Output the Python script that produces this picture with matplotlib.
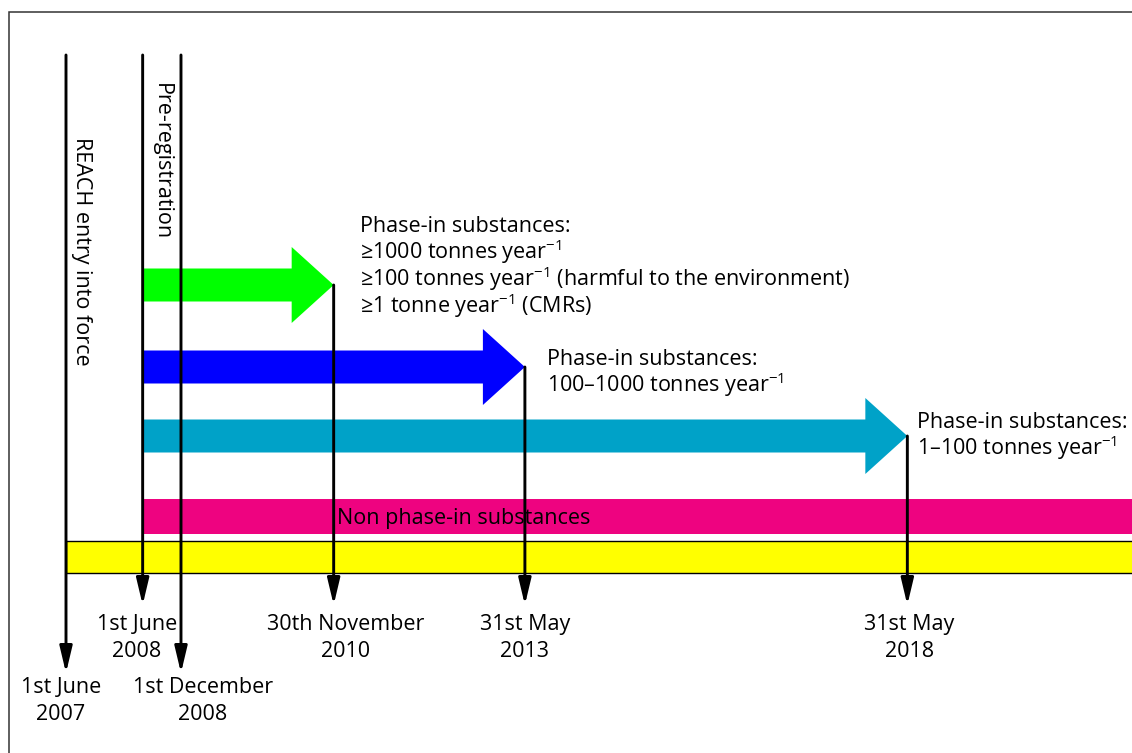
import datetime as dt
import matplotlib
matplotlib.use('Agg')
import matplotlib.pyplot as plt
import matplotlib.dates as mdates
from matplotlib.patches import Rectangle

plt.rcParams['font.family'] = ['Open Sans', 'DejaVu Sans']
plt.rcParams['mathtext.fontset'] = 'custom'
plt.rcParams['mathtext.rm'] = 'Open Sans'
plt.rcParams['mathtext.it'] = 'Open Sans:italic'
plt.rcParams['mathtext.bf'] = 'Open Sans:bold'
plt.rcParams['mathtext.default'] = 'regular'

# ---------------- data ----------------
milestone_dates = ['2007-06-01', '2008-06-01', '2008-12-01',
                   '2010-11-30', '2013-05-31', '2018-05-31']
milestone_labels = ['1st June\n2007', '1st June\n2008', '1st December\n2008',
                    '30th November\n2010', '31st May\n2013', '31st May\n2018']

entry_into_force = '2007-06-01'
entry_label = 'REACH entry into force'
prereg_start = '2008-06-01'
prereg_end = '2008-12-01'
prereg_label = 'Pre-registration'

phase_in_start = '2008-06-01'
phase_in_deadlines = ['2010-11-30', '2013-05-31', '2018-05-31']
phase_in_texts = [
    ['Phase-in substances:',
     '≥1000 tonnes year$^{-1}$',
     '≥100 tonnes year$^{-1}$ (harmful to the environment)',
     '≥1 tonne year$^{-1}$ (CMRs)'],
    ['Phase-in substances:',
     '100–1000 tonnes year$^{-1}$'],
    ['Phase-in substances:',
     '1–100 tonnes year$^{-1}$'],
]
phase_in_colors = ['#00FF00', '#0000FF', '#00A2C8']

non_phase_in_start = '2008-06-01'
non_phase_in_label = 'Non phase-in substances'
non_phase_in_color = '#EE0380'
reach_period_start = '2007-06-01'
reach_color = '#FFFF00'

# ---------------- layout ----------------
W, H = 1132, 753
px_per_day = 76.5 / 365.25
anchor = mdates.date2num(dt.date(2007, 6, 1))
xlim = (anchor - 66 / px_per_day, anchor + (W - 66) / px_per_day)

def num(s):
    return mdates.date2num(dt.date.fromisoformat(s))

FS = 15.5
line_top = 55
# per milestone: (arrow tip y, label first baseline y, label x-offset px)
milestone_layout = [(673, 693, -5), (605, 630, -6), (673, 693, 22),
                    (605, 630, 12), (605, 630, 0), (605, 630, 2)]
arrow_rows = [285, 367, 436]
text_baselines = [232, 365, 428]
text_dx = [26, 22, 10]
line_gap = 27

fig = plt.figure(figsize=(W / 100, H / 100), dpi=100)
ax = fig.add_axes([0, 0, 1, 1])
ax.set_axis_off()

# frame
fig.add_artist(Rectangle((9 / W, -0.5), 2, (1 - 12 / H) + 0.5,
                         transform=fig.transFigure, fill=False,
                         ec='#333333', lw=1.1))

# horizontal bands
right = xlim[1] + 50
ax.barh(557, right - num(reach_period_start), left=num(reach_period_start),
        height=32, color=reach_color, edgecolor='black', lw=1.0, zorder=1)
ax.barh(516.5, right - num(non_phase_in_start), left=num(non_phase_in_start),
        height=35, color=non_phase_in_color, lw=0, zorder=1)
ax.annotate(non_phase_in_label, xy=(num(non_phase_in_start), 524),
            xytext=(194, 0), textcoords='offset pixels',
            ha='left', va='baseline', fontsize=FS, color='black', zorder=2)

# phase-in arrows
head_len = 42 / px_per_day
for dl, col, yrow in zip(phase_in_deadlines, phase_in_colors, arrow_rows):
    s = num(phase_in_start)
    ax.arrow(s, yrow, num(dl) - s, 0, width=33, head_width=76,
             head_length=head_len, length_includes_head=True,
             fc=col, ec='none', lw=0, zorder=2)

# milestone lines
line_tops = {milestone_dates[0]: line_top, milestone_dates[1]: line_top,
             milestone_dates[2]: line_top}
for dl, yrow in zip(phase_in_deadlines, arrow_rows):
    line_tops[dl] = yrow
for d, lab, (tip, base, dx) in zip(milestone_dates, milestone_labels,
                                   milestone_layout):
    x = num(d)
    ax.annotate('', xy=(x, tip), xytext=(x, line_tops[d]),
                arrowprops=dict(arrowstyle='-|>,head_length=0.8,head_width=0.19',
                                mutation_scale=20, lw=2.1, color='black',
                                shrinkA=0, shrinkB=0), zorder=4)
    for i, part in enumerate(lab.split('\n')):
        ax.annotate(part, xy=(x, base + i * line_gap), xytext=(dx, 0),
                    textcoords='offset pixels', ha='center', va='baseline',
                    fontsize=FS)

# rotated labels
ax.annotate(entry_label, xy=(num(entry_into_force), 137), xytext=(15, 0),
            textcoords='offset pixels', rotation=-90, ha='center', va='top',
            fontsize=FS)
ax.annotate(prereg_label, xy=(num(prereg_start), 83), xytext=(19, 0),
            textcoords='offset pixels', rotation=-90, ha='center', va='top',
            fontsize=FS)

# phase-in texts
for dl, lines, yb, dx in zip(phase_in_deadlines, phase_in_texts,
                             text_baselines, text_dx):
    for i, t in enumerate(lines):
        ax.annotate(t, xy=(num(dl), yb + i * line_gap), xytext=(dx, 0),
                    textcoords='offset pixels', ha='left', va='baseline',
                    fontsize=FS)

ax.set_xlim(*xlim)
ax.set_ylim(H, 0)
fig.savefig('out.png', dpi=100)
